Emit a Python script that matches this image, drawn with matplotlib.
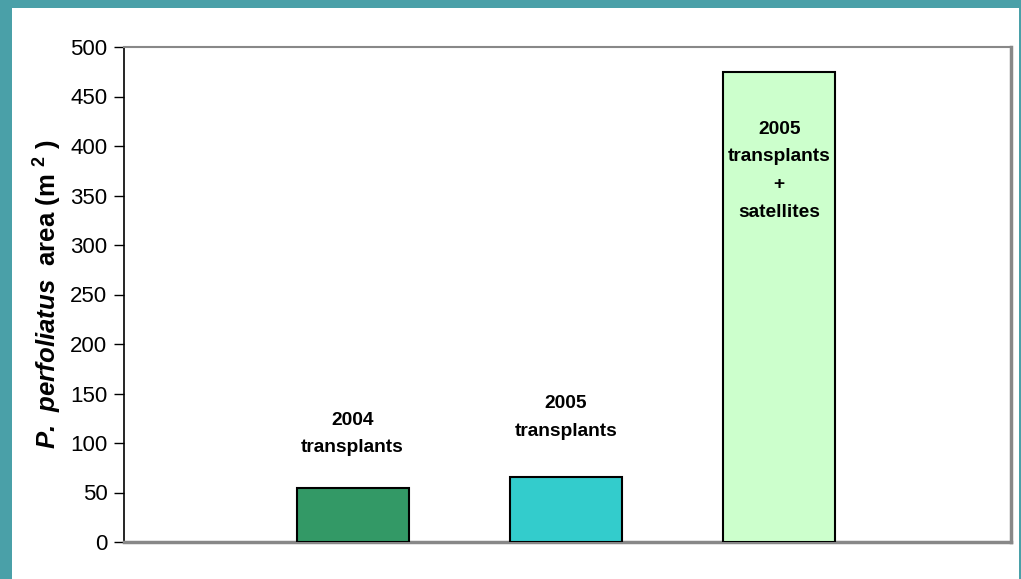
import matplotlib
matplotlib.use("Agg")
import matplotlib.pyplot as plt
from matplotlib.patches import Rectangle

plt.rcParams['font.family'] = ['Liberation Sans', 'DejaVu Sans']
plt.rcParams['mathtext.fontset'] = 'custom'
plt.rcParams['mathtext.rm'] = 'Liberation Sans'
plt.rcParams['mathtext.bf'] = 'Liberation Sans:bold'
plt.rcParams['mathtext.bfit'] = 'Liberation Sans:bold:italic'

# data
groups = ["2004\ntransplants", "2005\ntransplants", "2005\ntransplants\n+\nsatellites"]
areas = [55, 66, 475]
colors = ["#339966", "#33cccc", "#ccffcc"]
positions = [1, 2, 3]
label_y = [109, 126, 375]
yticks = [0, 50, 100, 150, 200, 250, 300, 350, 400, 450, 500]

fig = plt.figure(figsize=(10.21, 5.79), dpi=100)
fig.patch.set_facecolor("#4aa0a8")
# white panel inside the teal border
fig.patches.append(Rectangle((12 / 1021, 0), 1007 / 1021, 571 / 579,
                             transform=fig.transFigure, facecolor="white",
                             edgecolor="none", zorder=-5))

ax = fig.add_axes([124 / 1021, 37 / 579, 887 / 1021, 495 / 579])
ax.set_zorder(2)
ax.bar(positions, areas, width=0.525, color=colors, edgecolor="black",
       linewidth=1.5, zorder=3)

for x, y, txt in zip(positions, label_y, groups):
    ax.text(x, y, txt, ha="center", va="center", fontsize=13.8,
            fontweight="bold", linespacing=1.82, zorder=4)

ax.set_xlim(-0.071, 4.086)
ax.set_ylim(0, 500)
ax.set_yticks(yticks)
ax.set_xticks([])
ax.tick_params(axis="y", labelsize=16, length=7, width=1, direction="out", pad=5)

for side in ["top", "right", "bottom"]:
    ax.spines[side].set_color("#888888")
ax.spines["top"].set_linewidth(1.5)
ax.spines["right"].set_linewidth(2.5)
ax.spines["bottom"].set_linewidth(2.5)
ax.spines["left"].set_color("black")
ax.spines["left"].set_linewidth(1.2)

ax.set_ylabel(r"$\mathbfit{P.\ perfoliatus}$  area (m $^{\mathbf{2}}$ )",
              fontsize=18.5, fontweight="bold", labelpad=5)

fig.savefig("out.png", dpi=100)
